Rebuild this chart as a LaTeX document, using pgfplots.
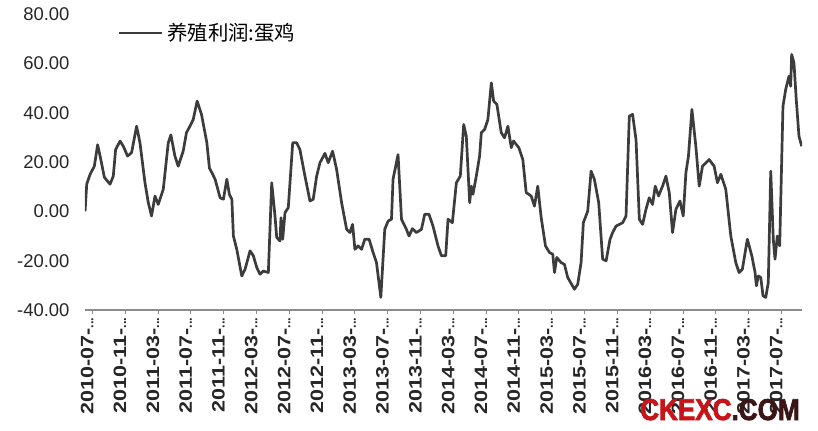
\documentclass[border=0pt]{standalone}
\usepackage{pgfplots}
\pgfplotsset{compat=1.18}
\usepackage{fontspec}
\setmainfont{Liberation Sans}[BoldFont={Liberation Sans Bold}]
\newfontfamily\lsbold{Liberation Sans Bold}
\newfontfamily\heavy{Liberation Sans Bold}[FakeBold=2.5]
\newfontfamily\cjk{Noto Sans CJK SC}
\definecolor{linegray}{RGB}{60,60,60}
\definecolor{axgray}{RGB}{140,140,140}
\definecolor{wmred}{RGB}{200,20,25}
\definecolor{wmdark}{RGB}{60,22,22}
\newcommand{\lab}[1]{\scalebox{1.2}[1]{#1-}{\fontsize{13}{13}\selectfont...}}
\begin{document}
\begin{tikzpicture}
\begin{axis}[
  scale only axis,
  width=717bp, height=296bp,
  xmin=-0.9, xmax=86.5,
  ymin=-40, ymax=80,
  axis x line*=bottom,
  axis y line*=left,
  x axis line style={-, draw=axgray, line width=1.2bp},
  y axis line style={draw=none},
  ytick={-40,-20,0,20,40,60,80},
  ytick style={draw=none},
  xtick={0,4,...,84},
  xtick align=outside,
  xtick style={draw=axgray, line width=1bp},
  major tick length=4bp,
  xticklabels={\lab{2010-07},\lab{2010-11},\lab{2011-03},\lab{2011-07},\lab{2011-11},\lab{2012-03},\lab{2012-07},\lab{2012-11},\lab{2013-03},\lab{2013-07},\lab{2013-11},\lab{2014-03},\lab{2014-07},\lab{2014-11},\lab{2015-03},\lab{2015-07},\lab{2015-11},\lab{2016-03},\lab{2016-07},\lab{2016-11},\lab{2017-03},\lab{2017-07}},
  xticklabel style={rotate=90, anchor=base east, font=\lsbold\fontsize{18}{18}\selectfont, text=black!85, yshift=-1bp},
  yticklabel={\pgfmathprintnumber[fixed,fixed zerofill,precision=2]{\tick}},
  /pgf/number format/assume math mode=true,
  yticklabel style={font=\fontsize{18.5}{18}\selectfont, text=black!85, xshift=-12bp},
  legend style={at={(0.045,0.936)}, anchor=west, draw=none, fill=none, inner sep=0pt, font=\cjk\fontsize{20.5}{21}\selectfont},
  legend image code/.code={\draw[#1] (0bp,0bp) -- (43bp,0bp);},
  legend cell align=left,
]
\addplot[linegray, line width=2.7bp, line join=round] coordinates {
(-0.89,0) (-0.69,11) (-0.28,15) (0.24,18.3) (0.64,27) (0.94,22.4) (1.46,13.8) (2.15,11) (2.55,14.3) (2.83,25)
(3.37,28.5) (3.77,26.4) (4.29,22.4) (4.78,23.8) (5.39,34.5) (5.80,27.8) (6.41,11.6) (6.81,3.6) (7.21,-1.9) (7.63,6.2)
(8.03,2.8) (8.64,8.9) (9.25,27.8) (9.57,31) (10.06,22.4) (10.46,18.3) (11.07,24.4) (11.47,31.9) (11.89,34.5) (12.29,37.2)
(12.77,44.7) (13.30,39.3) (13.95,27.9) (14.27,17.5) (14.56,15.7) (14.96,13) (15.57,5.5) (15.97,4.9) (16.39,13) (16.70,6.9)
(17.00,4.9) (17.19,-10) (17.60,-15.4) (18.21,-26.2) (18.61,-23.5) (19.22,-16) (19.62,-18) (20.04,-22.8) (20.44,-25.5) (20.84,-24.2)
(21.45,-24.8) (21.86,11.6) (22.26,-1.9) (22.47,-10.6) (22.87,-12) (22.99,-2.6) (23.20,-11.3) (23.48,-0.5) (23.88,1.5) (24.42,27.8)
(24.90,27.8) (25.30,25) (25.91,14.3) (26.52,4.2) (26.92,4.9) (27.34,14.3) (27.74,19.7) (28.35,23.5) (28.75,19.7) (29.28,24.4)
(29.77,17) (30.38,3.5) (30.99,-7.3) (31.39,-8.6) (31.72,-5.3) (32.00,-15.4) (32.40,-14) (32.81,-15.4) (33.21,-11.3) (33.73,-11.3)
(34.22,-16.7) (34.63,-20.8) (35.16,-34.9) (35.64,-7.3) (36.05,-3.9) (36.46,-3.2) (36.65,13) (37.26,23) (37.68,-3.2) (38.28,-7.3)
(38.60,-10) (39.01,-7) (39.50,-8.6) (40.11,-7.3) (40.51,-1.2) (41.03,-1.2) (41.52,-6) (42.13,-14) (42.54,-18) (43.07,-18)
(43.35,-3.2) (43.88,-4.6) (44.37,11.6) (44.85,14.3) (45.26,35.2) (45.58,30.5) (45.99,3.5) (46.19,10.2) (46.39,6.9) (46.80,14.3)
(47.20,22.4) (47.41,31.9) (47.81,33.2) (48.21,37.2) (48.63,52.1) (48.91,44.7) (49.31,43.3) (49.84,31.9) (50.24,29.8) (50.65,34.5)
(51.06,25.8) (51.34,28.5) (51.98,25.8) (52.47,21) (52.88,7.6) (53.49,6.2) (53.89,2.1) (54.29,10.2) (54.71,-2.6) (55.23,-14)
(55.72,-16.7) (56.12,-17.4) (56.33,-24.8) (56.61,-18.7) (57.14,-20.8) (57.54,-21.5) (57.94,-26.8) (58.76,-31.6) (59.16,-29.6) (59.57,-20.8)
(59.85,-4.6) (60.38,0.1) (60.79,16.3) (61.19,13) (61.72,3.5) (62.20,-19.4) (62.62,-20.1) (63.10,-11.3) (63.42,-8.6) (63.83,-6)
(64.23,-5.3) (64.64,-4.6) (65.05,-1.9) (65.45,38.6) (65.85,39.3) (66.27,29) (66.67,-3.2) (67.07,-5.3) (67.48,0.8) (67.88,5.5)
(68.28,2.8) (68.61,10.2) (69.01,6.2) (69.50,10.2) (69.91,14.3) (70.32,7.6) (70.72,-8.6) (71.13,0.8) (71.62,4.2) (72.02,-1.9)
(72.35,15.7) (72.66,22.4) (73.08,41.3) (73.56,26.4) (73.97,10.2) (74.37,18.3) (75.18,21) (75.79,18.3) (76.19,11.6) (76.61,15)
(77.21,8.9) (77.82,-10) (78.43,-20.8) (78.83,-24.8) (79.23,-23.5) (79.84,-11.3) (80.38,-18) (80.78,-24.8) (80.94,-30.2) (81.18,-26.2)
(81.47,-26.8) (81.75,-34.3) (82.08,-34.9) (82.39,-28.9) (82.69,16.3) (83.00,-11.3) (83.21,-19.4) (83.49,-10) (83.78,-14) (84.18,42.6)
(84.51,49.4) (84.91,54.8) (85.12,50.7) (85.24,63.6) (85.52,60.2) (85.80,45.3) (86.13,30.5) (86.46,26.4)
};
\addlegendentry{\hspace{2bp}养殖利润:蛋鸡}
\end{axis}
\node[anchor=base west, inner sep=0pt, font=\heavy\fontsize{27}{27}\selectfont] at (555bp,-110bp)
  {\scalebox{0.97}[1.12]{\textcolor{wmred}{CKEXC}\textcolor{wmdark}{.COM}}};
\path[use as bounding box] (-85bp,-121bp) rectangle (733bp,310bp);
\end{tikzpicture}
\end{document}
